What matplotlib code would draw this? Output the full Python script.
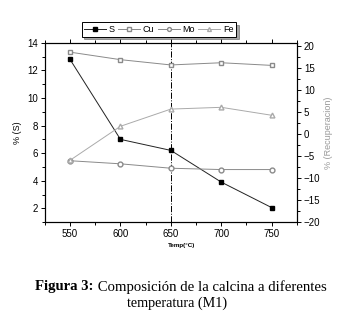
import matplotlib
matplotlib.use("Agg")
import matplotlib.pyplot as plt
from matplotlib.ticker import MultipleLocator

# Data
temps = [550, 600, 650, 700, 750]
s_pct = [12.8, 7.0, 6.2, 3.9, 2.05]       # left axis, % (S)
cu_rec = [18.5, 16.8, 15.6, 16.1, 15.5]   # right axis, % (Recuperacion)
mo_rec = [-6.1, -6.8, -7.8, -8.1, -8.1]
fe_rec = [-6.0, 1.7, 5.6, 6.0, 4.2]

plt.rcParams['font.family'] = ['Liberation Sans', 'DejaVu Sans']

fig = plt.figure(figsize=(3.53, 3.2), dpi=100)
ax = fig.add_axes([0.127, 0.306, 0.714, 0.56])
ax2 = ax.twinx()

l1, = ax.plot(temps, s_pct, color='#222222', lw=0.7, marker='s', ms=3.5,
              mfc='black', mec='black', label='S')
l2, = ax2.plot(temps, cu_rec, color='#8a8a8a', lw=0.7, marker='s', ms=3.5,
               mfc='white', mec='#8a8a8a', label='Cu')
l3, = ax2.plot(temps, mo_rec, color='#8a8a8a', lw=0.7, marker='o', ms=3.5,
               mfc='white', mec='#8a8a8a', label='Mo')
l4, = ax2.plot(temps, fe_rec, color='#aaaaaa', lw=0.7, marker='^', ms=3.5,
               mfc='white', mec='#aaaaaa', label='Fe')

ax.axvline(650, color='black', lw=0.7, ls='-.')

ax.set_xlim(525, 775)
ax.set_ylim(1, 14)
ax2.set_ylim(-20, 20.6)

ax.xaxis.set_major_locator(MultipleLocator(50))
ax.xaxis.set_minor_locator(MultipleLocator(25))
ax.yaxis.set_major_locator(MultipleLocator(2))
ax.yaxis.set_minor_locator(MultipleLocator(1))
ax2.yaxis.set_major_locator(MultipleLocator(5))
ax2.yaxis.set_minor_locator(MultipleLocator(2.5))

ax.tick_params(axis='x', which='both', direction='out', top=True, labelsize=7, pad=2)
ax.tick_params(axis='x', which='major', length=3, width=0.7)
ax.tick_params(axis='x', which='minor', length=2, width=0.7)
ax.tick_params(axis='y', which='major', direction='out', length=3, width=0.7, labelsize=7, pad=2)
ax.tick_params(axis='y', which='minor', direction='out', length=2, width=0.7)
ax2.tick_params(axis='y', which='major', direction='out', length=3, width=0.7, labelsize=7, pad=2)
ax2.tick_params(axis='y', which='minor', direction='out', length=2, width=0.7)

for a in (ax, ax2):
    for sp in a.spines.values():
        sp.set_linewidth(0.8)

ax.set_ylabel('% (S)', fontsize=6.5, labelpad=4)
ax2.set_ylabel('% (Recuperacion)', fontsize=6.5, color='#999999', labelpad=3)
fig.text(0.513, 0.232, 'Temp(°C)', fontsize=4.5, fontweight='bold', ha='center', va='center')

leg = fig.legend(handles=[l1, l2, l3, l4], loc='center', bbox_to_anchor=(0.45, 0.908),
                 ncol=4, fontsize=6.5, frameon=True, fancybox=False, shadow=True,
                 handlelength=2.4, handletextpad=0.3, columnspacing=0.4,
                 borderpad=0.3, markerscale=0.8)
leg.get_frame().set_edgecolor('black')
leg.get_frame().set_linewidth(0.7)

# caption: bold "Figura 3:" followed by regular text, line centered
cap_size = 10.6
fig.canvas.draw()
r = fig.canvas.get_renderer()
t1 = fig.text(0, 0.104, 'Figura 3:', fontsize=cap_size, fontweight='bold',
              family='Liberation Serif', ha='left', va='center')
t2 = fig.text(0, 0.104, ' Composición de la calcina a diferentes', fontsize=cap_size,
              family='Liberation Serif', ha='left', va='center')
w1 = t1.get_window_extent(renderer=r).width / fig.bbox.width
w2 = t2.get_window_extent(renderer=r).width / fig.bbox.width
x0 = 0.513 - (w1 + w2) / 2
t1.set_x(x0)
t2.set_x(x0 + w1)
fig.text(0.502, 0.053, 'temperatura (M1)', fontsize=10.2, family='Liberation Serif',
         ha='center', va='center')

fig.savefig('out.png', dpi=100)
